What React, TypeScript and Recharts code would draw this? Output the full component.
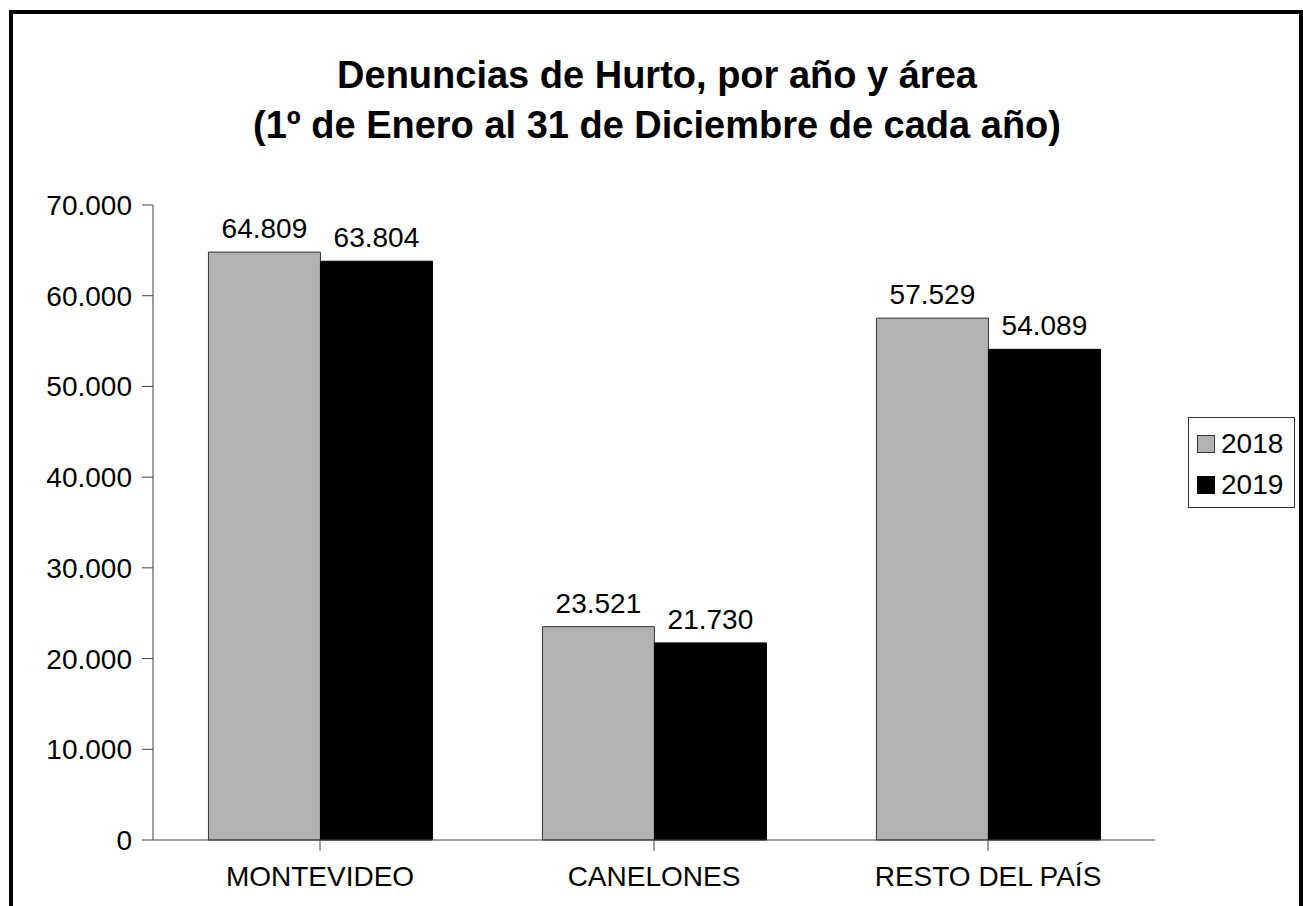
import { Bar, BarChart, LabelList, XAxis, YAxis } from "recharts";

const categories = ["MONTEVIDEO", "CANELONES", "RESTO DEL PAÍS"];
const values2018 = [64809, 23521, 57529];
const values2019 = [63804, 21730, 54089];
const yTicks = [0, 10000, 20000, 30000, 40000, 50000, 60000, 70000];

const series = [
  { key: "y2018", name: "2018", fill: "#b2b2b2", stroke: "#333333" },
  { key: "y2019", name: "2019", fill: "#000000", stroke: "#000000" },
];

const data = categories.map((name, i) => ({
  name,
  y2018: values2018[i],
  y2019: values2019[i],
}));

const fmt = (v: number) => String(v).replace(/\B(?=(\d{3})+(?!\d))/g, ".");

const FONT = '"Liberation Sans", Arial, sans-serif';
const tickStyle = { fontSize: 28, fill: "#000", fontFamily: FONT };

export default function App() {
  return (
    <div
      style={{
        position: "absolute",
        left: 0,
        top: 0,
        width: 1303,
        height: 906,
        background: "#fff",
        overflow: "hidden",
        fontFamily: FONT,
      }}
    >
      <div
        style={{
          position: "absolute",
          left: 9,
          top: 10,
          width: 1294,
          height: 920,
          border: "4px solid #000",
          boxSizing: "border-box",
        }}
      />
      <div
        style={{
          position: "absolute",
          left: 0,
          width: 1314,
          top: 50,
          textAlign: "center",
          fontWeight: 700,
          fontSize: 38,
          lineHeight: "50px",
          color: "#000",
        }}
      >
        <div>Denuncias de Hurto, por año y área</div>
        <div>(1º de Enero al 31 de Diciembre de cada año)</div>
      </div>

      <BarChart
        width={1303}
        height={906}
        data={data}
        margin={{ top: 205, right: 148, bottom: 26, left: 53 }}
        barCategoryGap="16.6%"
        barGap={0}
        style={{ position: "absolute", left: 0, top: 0 }}
      >
        <XAxis
          dataKey="name"
          height={40}
          tick={tickStyle}
          tickSize={11}
          tickMargin={15}
          stroke="#404040"
          interval={0}
        />
        <YAxis
          width={100}
          domain={[0, 70000]}
          ticks={yTicks}
          tickFormatter={fmt}
          tick={tickStyle}
          tickSize={11}
          tickMargin={10}
          stroke="#404040"
          interval={0}
        />
        {series.map((s) => (
          <Bar
            key={s.key}
            dataKey={s.key}
            name={s.name}
            fill={s.fill}
            stroke={s.stroke}
            strokeWidth={1}
            isAnimationActive={false}
          >
            <LabelList
              dataKey={s.key}
              position="top"
              offset={14}
              formatter={(v: any) => fmt(Number(v))}
              style={{ fontSize: 28, fill: "#000", fontFamily: FONT }}
            />
          </Bar>
        ))}
      </BarChart>

      <div
        style={{
          position: "absolute",
          left: 1188,
          top: 417,
          width: 107,
          height: 91,
          border: "1px solid #333",
          boxSizing: "border-box",
          padding: "5px 0 0 8px",
        }}
      >
        {series.map((s) => (
          <div
            key={s.key}
            style={{ display: "flex", alignItems: "center", height: 41, fontSize: 28 }}
          >
            <span
              style={{
                display: "inline-block",
                width: 18,
                height: 18,
                background: s.fill,
                border: `1px solid ${s.stroke}`,
                boxSizing: "border-box",
                marginRight: 6,
              }}
            />
            <span>{s.name}</span>
          </div>
        ))}
      </div>
    </div>
  );
}
